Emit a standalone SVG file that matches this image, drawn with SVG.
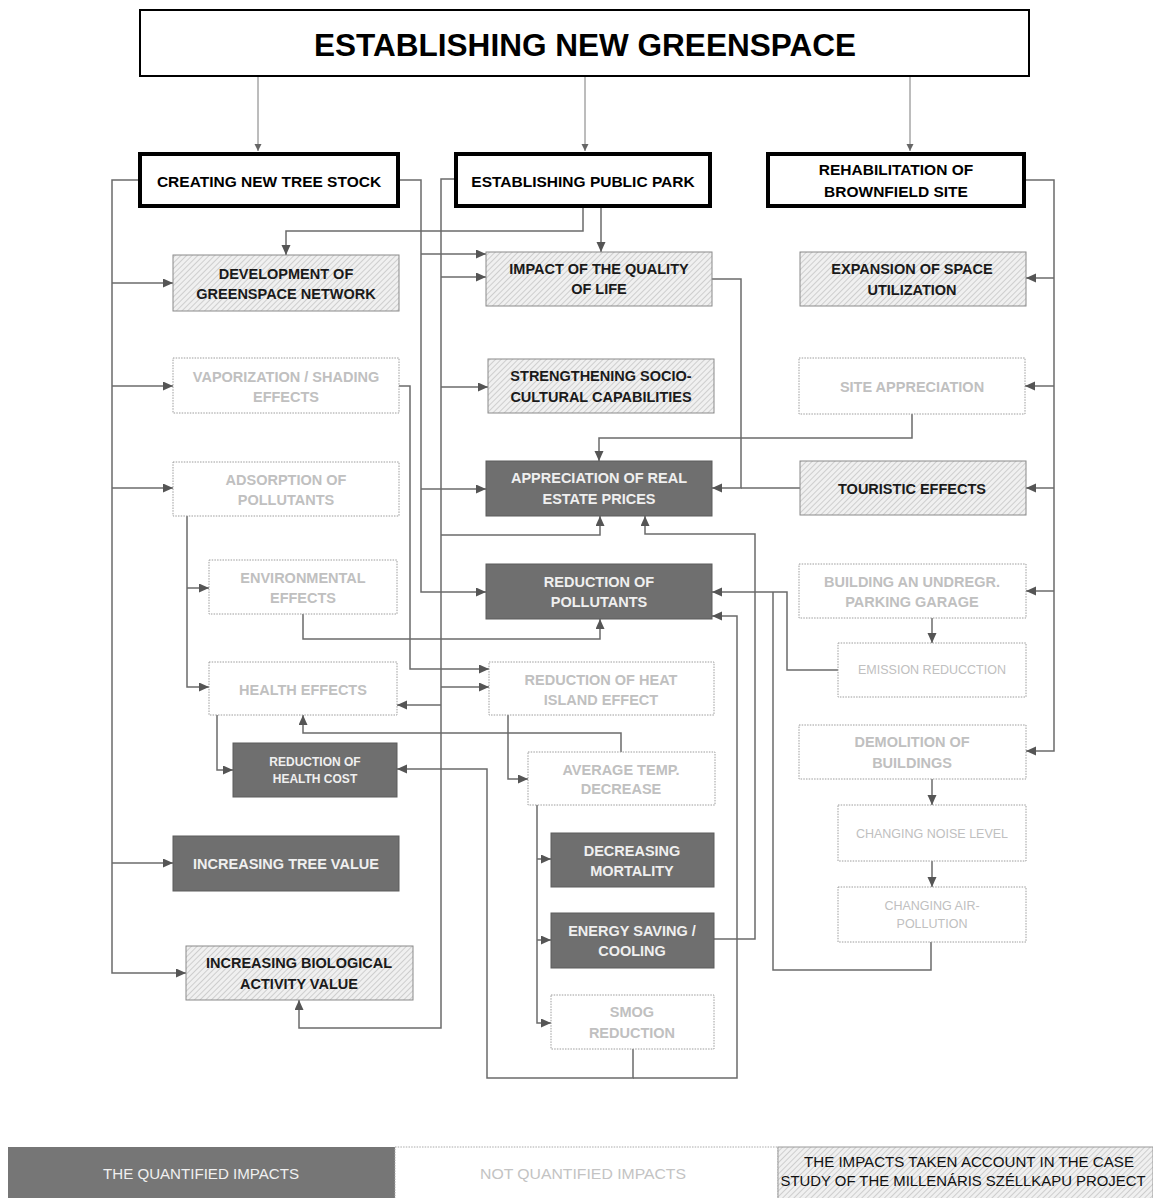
<svg xmlns="http://www.w3.org/2000/svg" width="1153" height="1198" viewBox="0 0 1153 1198">
<style>
.t{font-family:"Liberation Sans",Arial,sans-serif;font-weight:bold;text-anchor:middle;font-size:14.5px}
.q{fill:#6f6f6f;stroke:#5c5c5c;stroke-width:1}
.n{fill:#fff;stroke:#9c9c9c;stroke-width:1;stroke-dasharray:1.5 1.2}
.h{fill:url(#hatch);stroke:#8a8a8a;stroke-width:1}
.l2{fill:#fff;stroke:#000;stroke-width:4}
.tq{fill:#efefef}
.tn{fill:#c0c0c0}
.th{fill:#1a1a1a}
.sm{font-size:12px}
.rg{font-weight:normal;font-size:12.5px}
.c path{fill:none;stroke:#6b6b6b;stroke-width:1.5}
.c path.a{marker-end:url(#arr)}
.c path.ta{stroke:#7a7a7a;stroke-width:1;marker-end:url(#arrs)}
.lg{font-family:"Liberation Sans",Arial,sans-serif;text-anchor:middle;font-size:15px}
</style>
<defs>
<pattern id="hatch" width="4" height="4" patternUnits="userSpaceOnUse" patternTransform="rotate(45)">
<rect width="4" height="4" fill="#f0f0f0"/>
<line x1="0" y1="0" x2="0" y2="4" stroke="#acacac" stroke-width="1"/>
</pattern>
<marker id="arr" markerUnits="userSpaceOnUse" markerWidth="11" markerHeight="10" refX="10" refY="4.5" orient="auto">
<path d="M0,0 L10,4.5 L0,9 z" fill="#555"/>
</marker>
<marker id="arrs" markerUnits="userSpaceOnUse" markerWidth="8" markerHeight="8" refX="7" refY="3.5" orient="auto">
<path d="M0,0 L7,3.5 L0,7 z" fill="#666"/>
</marker>
</defs>
<rect width="1153" height="1198" fill="#fff"/>

<g class="c">
<path class="ta" d="M258,76 V151"/>
<path class="ta" d="M585,76 V151"/>
<path class="ta" d="M910,76 V151"/>

<path class="a" d="M138,180 H112 V973 H186"/>
<path class="a" d="M112,283 H173"/>
<path class="a" d="M112,386 H173"/>
<path class="a" d="M112,488 H173"/>
<path class="a" d="M112,863 H173"/>

<path class="a" d="M400,180 H421 V592 H486"/>
<path class="a" d="M421,254 H486"/>
<path class="a" d="M421,489 H486"/>

<path class="a" d="M399,386 H410 V669 H489"/>

<path class="a" d="M454,179 H441 V1028 H299 V1000"/>
<path class="a" d="M441,277 H486"/>
<path class="a" d="M441,387 H488"/>
<path class="a" d="M441,535 H600 V516"/>
<path class="a" d="M441,687 H489"/>
<path class="a" d="M441,705 H397"/>

<path class="a" d="M583,208 V231 H286 V255"/>
<path class="a" d="M601,208 V252"/>

<path class="a" d="M1026,180 H1054 V751 H1026"/>
<path class="a" d="M1054,278 H1026"/>
<path class="a" d="M1054,386 H1025"/>
<path class="a" d="M1054,488 H1026"/>
<path class="a" d="M1054,591 H1026"/>

<path class="a" d="M712,279 H741 V488 H712"/>
<path d="M800,488 H741"/>
<path class="a" d="M912,414 V438 H599 V461"/>

<path class="a" d="M187,516 V687 H209"/>
<path class="a" d="M187,588 H209"/>
<path class="a" d="M303,614 V639 H600 V619"/>
<path class="a" d="M217,715 V770 H233"/>
<path class="a" d="M621,752 V733 H303 V715"/>
<path class="a" d="M508,715 V779 H528"/>
<path class="a" d="M537,805 V1023 H551"/>
<path class="a" d="M537,859 H551"/>
<path class="a" d="M537,940 H551"/>
<path class="a" d="M633,1049 V1078 H487 V769 H397"/>
<path class="a" d="M633,1078 H737 V616 H712"/>
<path class="a" d="M714,939 H755 V534 H645 V516"/>
<path class="a" d="M932,618 V643"/>
<path class="a" d="M838,670 H787 V592 H712"/>
<path d="M931,942 V970 H773 V592"/>
<path class="a" d="M932,779 V805"/>
<path class="a" d="M932,861 V887"/>
</g>

<g id="title">
<rect x="140" y="10" width="889" height="66" fill="#fff" stroke="#000" stroke-width="2"/>
<text class="t" x="585" y="56" style="font-size:32px" textLength="542" lengthAdjust="spacingAndGlyphs" fill="#000">ESTABLISHING NEW GREENSPACE</text>
</g>

<g id="creating">
<rect class="l2" x="140" y="154" width="258" height="52"/>
<text class="t" x="269" y="187" style="font-size:15.5px" fill="#000">CREATING NEW TREE STOCK</text>
</g>
<g id="park">
<rect class="l2" x="456" y="154" width="254" height="52"/>
<text class="t" x="583" y="187" style="font-size:15.5px" fill="#000">ESTABLISHING PUBLIC PARK</text>
</g>
<g id="rehab">
<rect class="l2" x="768" y="154" width="256" height="52"/>
<text class="t" x="896" y="175" style="font-size:15.5px" fill="#000">REHABILITATION OF</text>
<text class="t" x="896" y="197" style="font-size:15.5px" fill="#000">BROWNFIELD SITE</text>
</g>

<g id="dev">
<rect class="h" x="173" y="255" width="226" height="56"/>
<text class="t th" x="286" y="279">DEVELOPMENT OF</text>
<text class="t th" x="286" y="299">GREENSPACE NETWORK</text>
</g>
<g id="vap">
<rect class="n" x="173" y="358" width="226" height="55"/>
<text class="t tn" x="286" y="382">VAPORIZATION / SHADING</text>
<text class="t tn" x="286" y="402">EFFECTS</text>
</g>
<g id="ads">
<rect class="n" x="173" y="462" width="226" height="54"/>
<text class="t tn" x="286" y="485">ADSORPTION OF</text>
<text class="t tn" x="286" y="505">POLLUTANTS</text>
</g>
<g id="env">
<rect class="n" x="209" y="560" width="188" height="54"/>
<text class="t tn" x="303" y="583">ENVIRONMENTAL</text>
<text class="t tn" x="303" y="603">EFFECTS</text>
</g>
<g id="health">
<rect class="n" x="209" y="662" width="188" height="53"/>
<text class="t tn" x="303" y="695">HEALTH EFFECTS</text>
</g>
<g id="rhc">
<rect class="q" x="233" y="743" width="164" height="54"/>
<text class="t tq sm" x="315" y="766">REDUCTION OF</text>
<text class="t tq sm" x="315" y="783">HEALTH COST</text>
</g>
<g id="itv">
<rect class="q" x="173" y="836" width="226" height="55"/>
<text class="t tq" x="286" y="869">INCREASING TREE VALUE</text>
</g>
<g id="ibav">
<rect class="h" x="186" y="946" width="227" height="54"/>
<text class="t th" x="299" y="968">INCREASING BIOLOGICAL</text>
<text class="t th" x="299" y="989">ACTIVITY VALUE</text>
</g>

<g id="iql">
<rect class="h" x="486" y="252" width="226" height="54"/>
<text class="t th" x="599" y="274">IMPACT OF THE QUALITY</text>
<text class="t th" x="599" y="294">OF LIFE</text>
</g>
<g id="ssc">
<rect class="h" x="488" y="359" width="226" height="54"/>
<text class="t th" x="601" y="381">STRENGTHENING SOCIO-</text>
<text class="t th" x="601" y="402">CULTURAL CAPABILITIES</text>
</g>
<g id="arep">
<rect class="q" x="486" y="461" width="226" height="55"/>
<text class="t tq" x="599" y="483">APPRECIATION OF REAL</text>
<text class="t tq" x="599" y="504">ESTATE PRICES</text>
</g>
<g id="rop">
<rect class="q" x="486" y="564" width="226" height="55"/>
<text class="t tq" x="599" y="587">REDUCTION OF</text>
<text class="t tq" x="599" y="607">POLLUTANTS</text>
</g>
<g id="rhi">
<rect class="n" x="489" y="662" width="225" height="53"/>
<text class="t tn" x="601" y="685">REDUCTION OF HEAT</text>
<text class="t tn" x="601" y="705">ISLAND EFFECT</text>
</g>
<g id="atd">
<rect class="n" x="528" y="752" width="187" height="53"/>
<text class="t tn" x="621" y="775">AVERAGE TEMP.</text>
<text class="t tn" x="621" y="794">DECREASE</text>
</g>
<g id="dm">
<rect class="q" x="551" y="833" width="163" height="54"/>
<text class="t tq" x="632" y="856">DECREASING</text>
<text class="t tq" x="632" y="876">MORTALITY</text>
</g>
<g id="es">
<rect class="q" x="551" y="913" width="163" height="55"/>
<text class="t tq" x="632" y="936">ENERGY SAVING /</text>
<text class="t tq" x="632" y="956">COOLING</text>
</g>
<g id="smog">
<rect class="n" x="551" y="995" width="163" height="54"/>
<text class="t tn" x="632" y="1017">SMOG</text>
<text class="t tn" x="632" y="1038">REDUCTION</text>
</g>

<g id="esu">
<rect class="h" x="800" y="252" width="226" height="54"/>
<text class="t th" x="912" y="274">EXPANSION OF SPACE</text>
<text class="t th" x="912" y="295">UTILIZATION</text>
</g>
<g id="sa">
<rect class="n" x="799" y="358" width="226" height="56"/>
<text class="t tn" x="912" y="392">SITE APPRECIATION</text>
</g>
<g id="te">
<rect class="h" x="800" y="461" width="226" height="54"/>
<text class="t th" x="912" y="494">TOURISTIC EFFECTS</text>
</g>
<g id="bug">
<rect class="n" x="799" y="564" width="227" height="54"/>
<text class="t tn" x="912" y="587">BUILDING AN UNDREGR.</text>
<text class="t tn" x="912" y="607">PARKING GARAGE</text>
</g>
<g id="er">
<rect class="n" x="838" y="643" width="188" height="54"/>
<text class="t tn rg" x="932" y="674">EMISSION REDUCCTION</text>
</g>
<g id="dob">
<rect class="n" x="799" y="725" width="227" height="54"/>
<text class="t tn" x="912" y="747">DEMOLITION OF</text>
<text class="t tn" x="912" y="768">BUILDINGS</text>
</g>
<g id="cnl">
<rect class="n" x="838" y="805" width="188" height="56"/>
<text class="t tn rg" x="932" y="838">CHANGING NOISE LEVEL</text>
</g>
<g id="cap">
<rect class="n" x="838" y="887" width="188" height="55"/>
<text class="t tn rg" x="932" y="910">CHANGING AIR-</text>
<text class="t tn rg" x="932" y="928">POLLUTION</text>
</g>

<g id="legend">
<rect x="8" y="1147" width="387" height="52" fill="#767676"/>
<text class="lg" x="201" y="1179" fill="#f0f0f0" textLength="196" lengthAdjust="spacingAndGlyphs">THE QUANTIFIED IMPACTS</text>
<rect x="395" y="1147" width="383" height="52" fill="#fff" stroke="#aaa" stroke-width="1" stroke-dasharray="1.5 1.2"/>
<text class="lg" x="583" y="1179" fill="#c3c3c3" textLength="206" lengthAdjust="spacingAndGlyphs">NOT QUANTIFIED IMPACTS</text>
<rect x="778" y="1147" width="375" height="52" fill="url(#hatch)" stroke="#999" stroke-width="1"/>
<text class="lg" x="969" y="1167" fill="#111" textLength="330" lengthAdjust="spacingAndGlyphs">THE IMPACTS TAKEN ACCOUNT IN THE CASE</text>
<text class="lg" x="963" y="1186" fill="#111" textLength="365" lengthAdjust="spacingAndGlyphs">STUDY OF THE MILLENÁRIS SZÉLLKAPU PROJECT</text>
</g>
</svg>
